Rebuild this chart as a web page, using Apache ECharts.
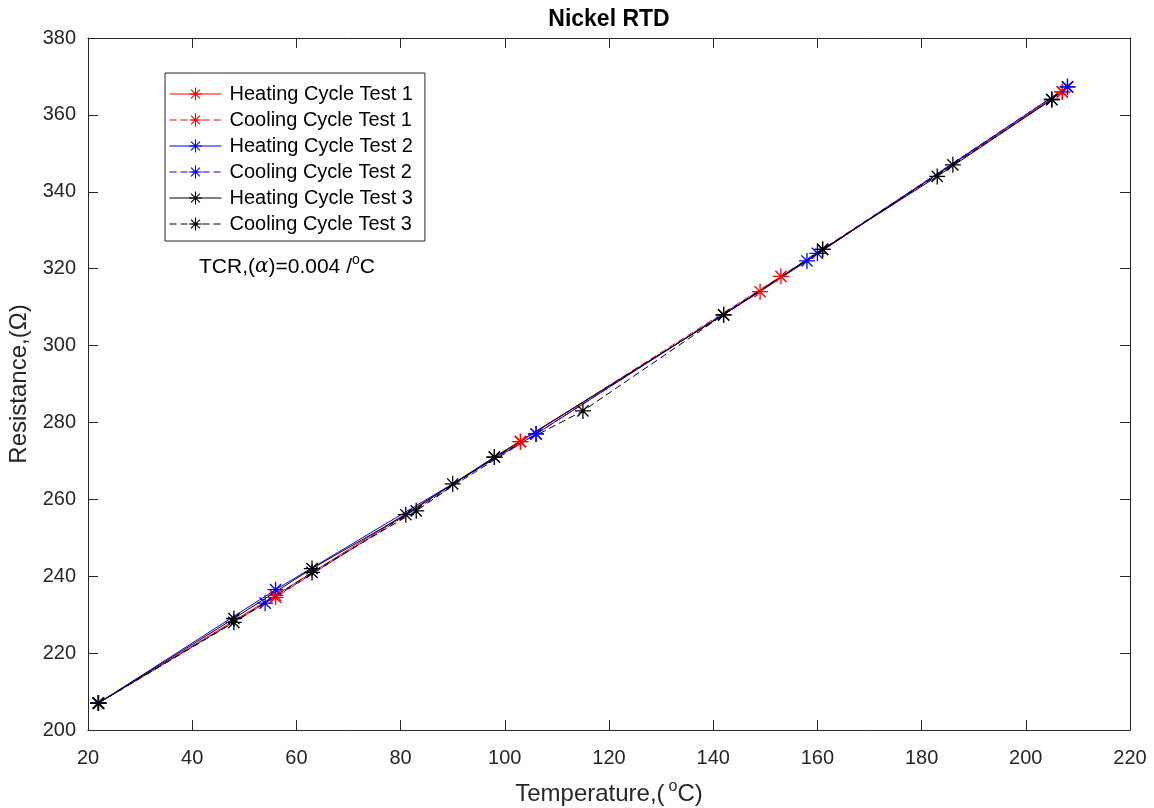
<!DOCTYPE html>
<html>
<head>
<meta charset="utf-8">
<script src="https://cdn.jsdelivr.net/npm/echarts@6/dist/echarts.min.js"></script>
<style>
html,body{margin:0;padding:0;background:#fff;}
#main{width:1154px;height:808px;}
</style>
</head>
<body>
<div id="main"></div>
<script>
// ---- data ----
const heat1T = [22, 56, 103, 149, 207];
const heat1R = [207, 235, 275, 314, 366];
const cool1T = [207, 153, 103, 56, 22];
const cool1R = [366, 318, 275, 234.5, 207];

const heat2T = [22, 56, 106, 158, 208];
const heat2R = [207, 236.5, 277, 322, 367.3];
const cool2T = [208, 160, 106, 54, 22];
const cool2R = [367.3, 324, 277, 233, 207];

const heat3T = [22, 48, 63, 81, 90, 98, 142, 161, 183, 205];
const heat3R = [207, 229, 242, 256, 264, 271, 308, 325, 344, 364];
const cool3T = [205, 186, 161, 142, 115, 98, 83, 63, 48, 22];
const cool3R = [364, 347, 325, 308, 283, 271, 257, 241, 228, 207];

const seriesNames = ['Heating Cycle Test 1','Cooling Cycle Test 1','Heating Cycle Test 2','Cooling Cycle Test 2','Heating Cycle Test 3','Cooling Cycle Test 3'];
const xTicks = [20,40,60,80,100,120,140,160,180,200,220];
const yTicks = [200,220,240,260,280,300,320,340,360,380];

const FONT = '"Liberation Sans", Arial, Helvetica, sans-serif';
const AX = '#262626';
const STAR = 'path://M0 9.2L20 9.2L20 10.8L0 10.8ZM9.2 0L10.8 0L10.8 20L9.2 20ZM2.4 3.6L3.6 2.4L17.6 16.4L16.4 17.6ZM16.4 2.4L17.6 3.6L3.6 17.6L2.4 16.4Z';

function zip(a, b){ return a.map((v,i)=>[v, b[i]]); }
function mk(name, T, R, color, dashed){
  return {
    name: name, type: 'line', data: zip(T, R),
    symbol: STAR, symbolSize: 16, showSymbol: true,
    itemStyle: {color: color},
    lineStyle: {color: color, width: 1, type: dashed ? [7,4] : 'solid'},
    emphasis: {disabled: true}, animation: false, z: 3
  };
}

const chart = echarts.init(document.getElementById('main'), null, {renderer:'canvas'});
const axisCommon = {
  axisLine: {show: true, lineStyle: {color: AX, width: 1}},
  axisTick: {show: true, inside: true, length: 10, lineStyle: {color: AX}},
  splitLine: {show: false}
};
chart.setOption({
  animation: false,
  backgroundColor: '#fff',
  grid: {left: 88, right: 24, top: 38, bottom: 78, containLabel: false, outerBoundsMode: 'none'},
  xAxis: [
    Object.assign({
      type: 'value', min: 20, max: 220, interval: 20, position: 'bottom',
      name: 'Temperature,({sup|o}C)', nameLocation: 'middle', nameGap: 49,
      nameTextStyle: {fontFamily: FONT, fontSize: 24, color: AX,
        rich: {sup: {fontFamily: FONT, fontSize: 16, color: AX, verticalAlign: 'top', padding: [0,0,14,4]}}},
      axisLabel: {fontFamily: FONT, fontSize: 20, color: AX, margin: 18,
        formatter: v => xTicks.includes(v) ? String(v) : ''}
    }, axisCommon),
    Object.assign({
      type: 'value', min: 20, max: 220, interval: 20, position: 'top',
      axisLabel: {show: false}
    }, axisCommon)
  ],
  yAxis: [
    Object.assign({
      type: 'value', min: 200, max: 380, interval: 20, position: 'left',
      name: 'Resistance,(Ω)', nameLocation: 'middle', nameGap: 56,
      nameTextStyle: {fontFamily: FONT, fontSize: 24, color: AX},
      axisLabel: {fontFamily: FONT, fontSize: 20, color: AX, margin: 12,
        formatter: v => yTicks.includes(v) ? String(v) : ''}
    }, axisCommon),
    Object.assign({
      type: 'value', min: 200, max: 380, interval: 20, position: 'right',
      axisLabel: {show: false}
    }, axisCommon)
  ],
  legend: {
    orient: 'vertical', left: 165, top: 73,
    data: seriesNames,
    itemWidth: 52, itemHeight: 16, itemGap: 6,
    padding: [11, 12, 7, 4],
    borderColor: AX, borderWidth: 1, backgroundColor: '#fff',
    lineStyle: {width: 1},
    textStyle: {fontFamily: FONT, fontSize: 20, color: '#000', padding: [0,0,0,3]},
    selectedMode: false
  },
  series: [
    mk(seriesNames[0], heat1T, heat1R, '#FF0000', false),
    mk(seriesNames[1], cool1T, cool1R, '#FF0000', true),
    mk(seriesNames[2], heat2T, heat2R, '#0000FF', false),
    mk(seriesNames[3], cool2T, cool2R, '#0000FF', true),
    mk(seriesNames[4], heat3T, heat3R, '#000000', false),
    mk(seriesNames[5], cool3T, cool3R, '#000000', true)
  ],
  graphic: [
    {type: 'text', x: 609, y: 20,
      style: {text: 'Nickel RTD', align: 'center', verticalAlign: 'middle',
        font: 'bold 23px ' + FONT, fill: '#000'}},
    {type: 'text', x: 199, y: 267,
      style: {text: 'TCR,({a|α})=0.004 /{sup|o}C', align: 'left', verticalAlign: 'middle',
        font: '21px ' + FONT, fill: '#000',
        rich: {a: {fontFamily: 'DejaVu Serif', fontStyle: 'italic', fontSize: 20, fill: '#000'},
               sup: {fontFamily: FONT, fontSize: 14, verticalAlign: 'top', padding: [0,0,13,0]}}}}
  ]
});
</script>
</body>
</html>
